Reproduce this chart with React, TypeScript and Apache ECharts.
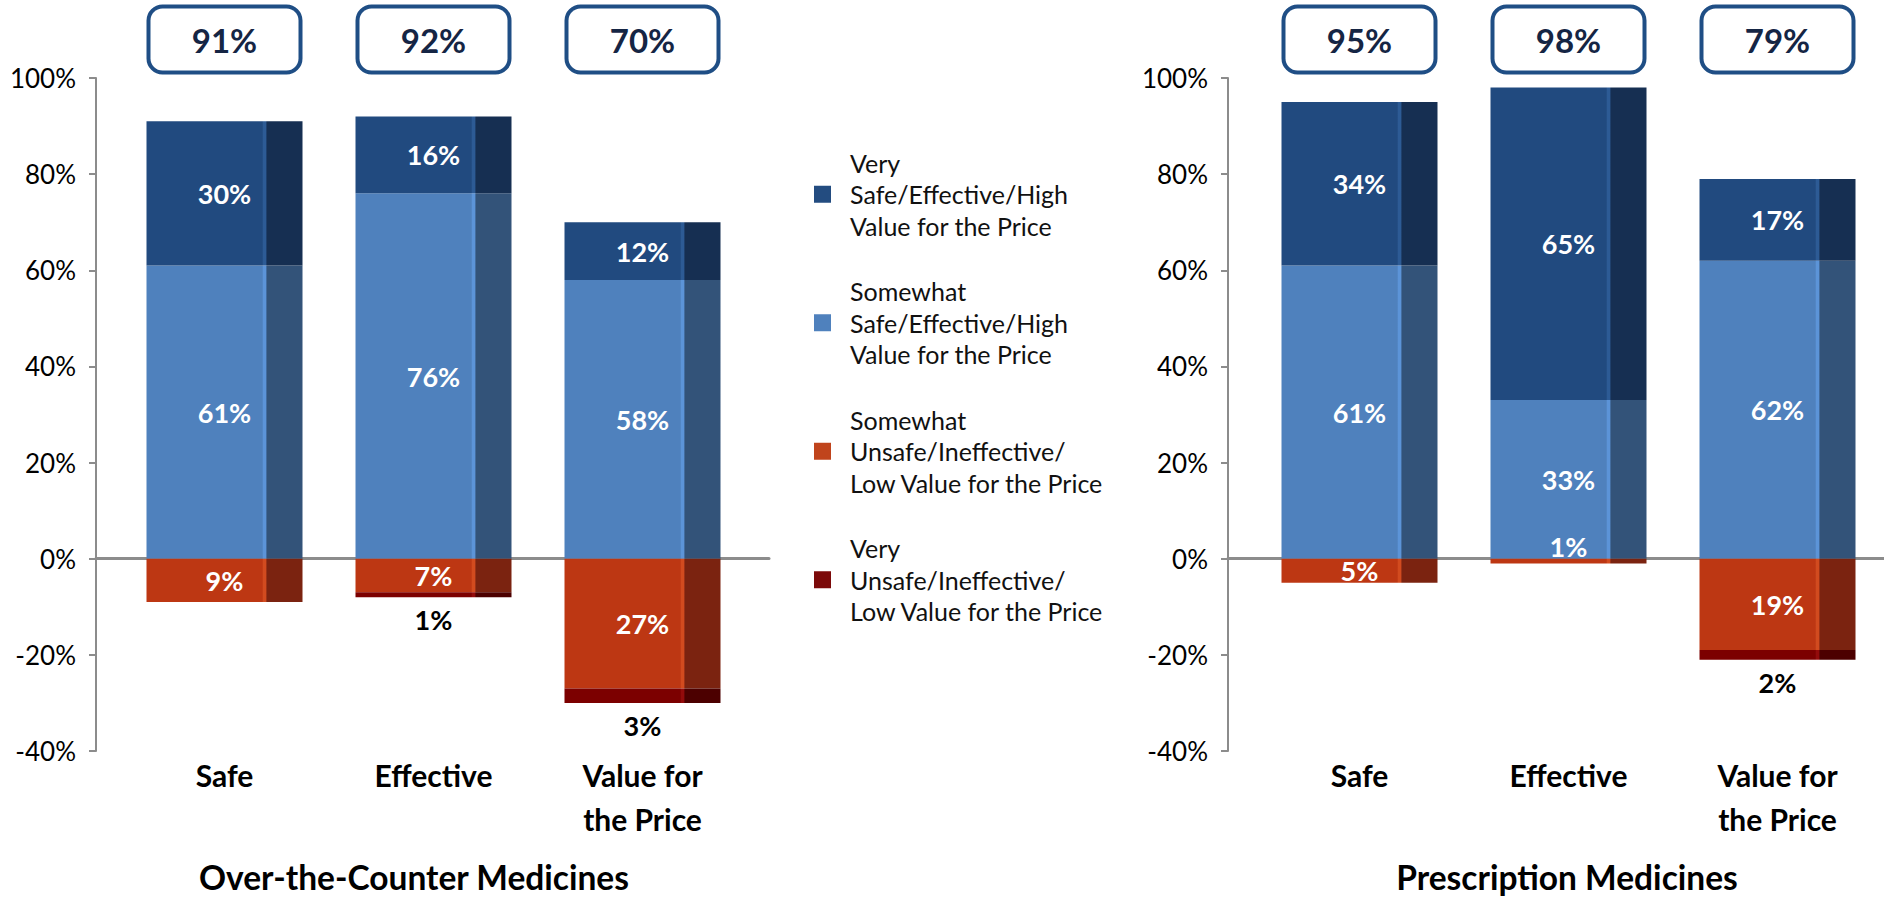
import React, { useEffect, useRef } from 'react';
import * as echarts from 'echarts';

const categories = ['Safe', 'Effective', 'Value for\nthe Price'];
const seriesNames = [
  'Very\nSafe/Effective/High\nValue for the Price',
  'Somewhat\nSafe/Effective/High\nValue for the Price',
  'Somewhat\nUnsafe/Ineffective/\nLow Value for the Price',
  'Very\nUnsafe/Ineffective/\nLow Value for the Price',
];

// Over-the-Counter Medicines
const otcVerySafe = [30, 16, 12];
const otcSomewhatSafe = [61, 76, 58];
const otcSomewhatUnsafe = [9, 7, 27];
const otcVeryUnsafe = [0, 1, 3];

// Prescription Medicines
const rxVerySafe = [34, 65, 17];
const rxSomewhatSafe = [61, 33, 62];
const rxSomewhatUnsafe = [5, 1, 19];
const rxVeryUnsafe = [0, 0, 2];

const chartTitles = ['Over-the-Counter Medicines', 'Prescription Medicines'];

const Y_MIN = -40;
const Y_MAX = 100;
const Y_STEP = 20;
const BOX_LEVEL = 108;
const FONT = 'Lato, "Open Sans", sans-serif';

function face(front: string, hi: string, side: string) {
  return new echarts.graphic.LinearGradient(0, 0, 1, 0, [
    { offset: 0, color: front },
    { offset: 0.742, color: front },
    { offset: 0.748, color: hi },
    { offset: 0.765, color: hi },
    { offset: 0.772, color: side },
    { offset: 1, color: side },
  ]);
}

const COLORS = [
  () => face('#214a7f', '#2d5b95', '#162f52'),
  () => face('#4f81bd', '#5c94d8', '#335379'),
  () => face('#bd3713', '#d24b1f', '#7b2310'),
  () => face('#7c0000', '#930b0b', '#4c0000'),
];
const LEGEND_COLORS = ['#234c80', '#4f81bd', '#c0441c', '#7c0a0a'];

function buildSide(
  idx: number,
  verySafe: number[],
  somewhatSafe: number[],
  somewhatUnsafe: number[],
  veryUnsafe: number[]
) {
  const xi = idx * 2 + 1;
  const yi = idx * 2 + 1;
  const stack = 'stack' + idx;
  const pct = (p: any) => {
    const v = Math.abs(p.value as number);
    return v === 0 ? '' : v + '%';
  };
  const inLabel = {
    show: true,
    position: 'inside',
    color: '#fff',
    fontSize: 27,
    fontWeight: 'bold',
    fontFamily: FONT,
    formatter: pct,
  };
  const totals = verySafe.map((v, i) => v + somewhatSafe[i]);
  const base = {
    type: 'bar',
    xAxisIndex: xi,
    yAxisIndex: yi,
    stack,
    barWidth: 156,
  };
  return [
    {
      ...base,
      name: seriesNames[1],
      data: somewhatSafe,
      itemStyle: { color: COLORS[1]() },
      label: inLabel,
    },
    {
      ...base,
      name: seriesNames[0],
      data: verySafe,
      itemStyle: { color: COLORS[0]() },
      label: inLabel,
    },
    {
      ...base,
      name: seriesNames[2],
      data: somewhatUnsafe.map((v) => ({
        value: -v,
        label: v <= 1 ? { offset: [0, -15] } : undefined,
      })),
      itemStyle: { color: COLORS[2]() },
      label: inLabel,
    },
    {
      ...base,
      name: seriesNames[3],
      data: veryUnsafe.map((v) => -v),
      itemStyle: { color: COLORS[3]() },
      label: {
        show: true,
        position: 'bottom',
        distance: 9,
        color: '#000',
        fontSize: 27,
        fontWeight: 'bold',
        fontFamily: FONT,
        formatter: pct,
      },
    },
    {
      type: 'scatter',
      name: 'totals' + idx,
      xAxisIndex: xi,
      yAxisIndex: yi,
      symbolSize: 0,
      clip: false,
      silent: true,
      z: 10,
      itemStyle: { opacity: 1 },
      data: categories.map((_, i) => [i, BOX_LEVEL]),
      label: {
        show: true,
        position: 'inside',
        formatter: (p: any) => totals[p.dataIndex] + '%',
        backgroundColor: '#fff',
        borderColor: '#1f4e85',
        borderWidth: 4,
        borderRadius: 12,
        width: 148,
        height: 62,
        lineHeight: 62,
        padding: 0,
        align: 'center',
        verticalAlign: 'middle',
        color: '#152544',
        fontSize: 33,
        fontWeight: 'bold',
        fontFamily: FONT,
        opacity: 1,
      },
    },
  ];
}

export default function App() {
  const ref = useRef<HTMLDivElement>(null);
  useEffect(() => {
    if (!ref.current) return;
    const chart = echarts.init(ref.current, undefined, { renderer: 'svg' });
    const gridTop = 78;
    const gridBottom = 149;
    const frameY = (gi: number) => ({
      type: 'value',
      gridIndex: gi,
      min: Y_MIN,
      max: Y_MAX,
      interval: Y_STEP,
      axisLine: { show: true, lineStyle: { color: '#8c8c8c', width: 2 } },
      axisTick: { show: true, length: 7, lineStyle: { color: '#8c8c8c', width: 2 } },
      axisLabel: {
        formatter: '{value}%',
        fontSize: 26,
        color: '#000',
        fontFamily: FONT,
        margin: 20,
      },
      splitLine: { show: false },
    });
    const innerY = (gi: number) => ({
      type: 'value',
      gridIndex: gi,
      min: Y_MIN,
      max: Y_MAX,
      interval: Y_STEP,
      show: false,
      splitLine: { show: false },
    });
    const frameX = (gi: number) => ({
      type: 'category',
      gridIndex: gi,
      data: categories,
      axisLabel: { show: false },
      axisTick: { show: false },
      axisLine: { show: true, onZero: true, lineStyle: { color: '#8c8c8c', width: 3 } },
    });
    const innerX = (gi: number) => ({
      type: 'category',
      gridIndex: gi,
      data: categories,
      axisTick: { show: false },
      axisLine: { show: false, onZero: false },
      axisLabel: {
        interval: 0,
        margin: 2,
        fontSize: 30,
        lineHeight: 44,
        fontWeight: 'bold',
        color: '#000',
        fontFamily: FONT,
      },
    });
    const titleStyle = {
      align: 'center',
      verticalAlign: 'middle',
      fontSize: 33.5,
      fontWeight: 'bold',
      fontFamily: FONT,
      fill: '#000',
    };
    const option = {
      animation: false,
      backgroundColor: '#fff',
      textStyle: { fontFamily: FONT },
      grid: [
        { left: 96, width: 673, top: gridTop, bottom: gridBottom },
        { left: 120, width: 627, top: gridTop, bottom: gridBottom },
        { left: 1228, width: 656, top: gridTop, bottom: gridBottom },
        { left: 1255, width: 627, top: gridTop, bottom: gridBottom },
      ],
      xAxis: [frameX(0), innerX(1), frameX(2), innerX(3)],
      yAxis: [frameY(0), innerY(1), frameY(2), innerY(3)],
      legend: {
        orient: 'vertical',
        left: 809,
        top: 142,
        itemWidth: 17,
        itemHeight: 17,
        itemGap: 34,
        icon: 'rect',
        data: seriesNames.map((n, i) => ({ name: n, itemStyle: { color: LEGEND_COLORS[i] } })),
        textStyle: {
          fontSize: 25,
          lineHeight: 31.5,
          color: '#111',
          fontFamily: FONT,
          padding: [0, 0, 0, 14],
        },
        selectedMode: false,
      },
      graphic: [
        { type: 'text', x: 414, y: 877, style: { text: chartTitles[0], ...titleStyle } },
        { type: 'text', x: 1567, y: 877, style: { text: chartTitles[1], ...titleStyle } },
      ],
      series: [
        ...buildSide(0, otcVerySafe, otcSomewhatSafe, otcSomewhatUnsafe, otcVeryUnsafe),
        ...buildSide(1, rxVerySafe, rxSomewhatSafe, rxSomewhatUnsafe, rxVeryUnsafe),
      ],
    };
    chart.setOption(option as any);
    return () => chart.dispose();
  }, []);
  return (
    <div
      ref={ref}
      style={{ position: 'fixed', left: 0, top: 0, width: '1884px', height: '900px' }}
    />
  );
}
